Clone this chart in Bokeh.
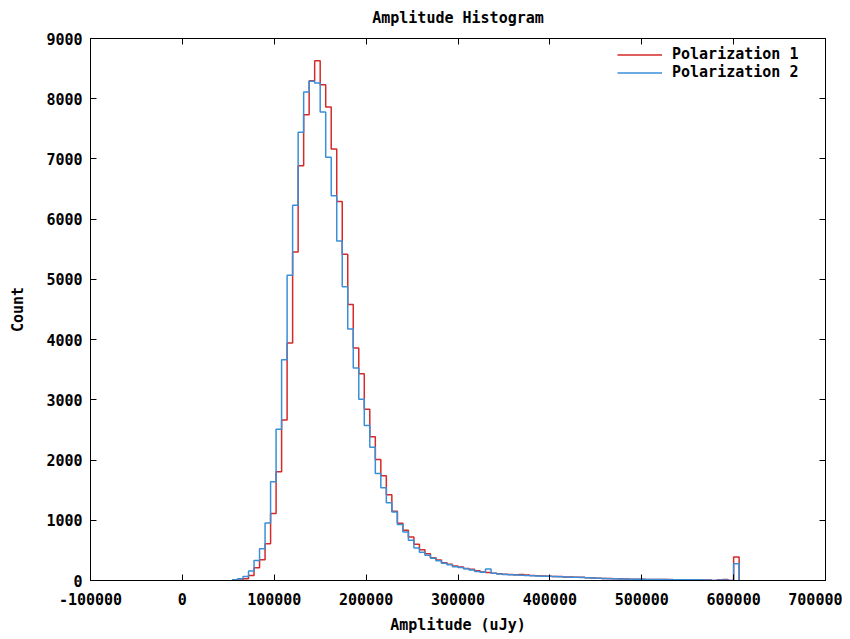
import numpy as np
from bokeh.plotting import figure
from bokeh.models import LinearAxis, FixedTicker, Legend, LegendItem, Range1d
from bokeh.embed import file_html
from bokeh.resources import INLINE

# ---------------- data ----------------
bin_width = 6000          # uJy per histogram bin
first_bin = 9             # index of the first bin listed below (bin k starts at k*bin_width)

pol1_counts = [
    0, 8, 28, 83, 211, 344, 611, 1111, 1806, 2667,
    3944, 5456, 6889, 7733, 8300, 8630, 8233, 7861, 7167, 6295,
    5417, 4583, 3861, 3433, 2844, 2389, 2011, 1739, 1422, 1150,
    950, 833, 722, 600, 510, 444, 378, 340, 295, 270,
    240, 225, 200, 185, 160, 140, 133, 120, 112, 105,
    100, 95, 100, 92, 85, 80, 75, 72, 68, 65,
    60, 58, 55, 52, 45, 42, 38, 35, 33, 30,
    28, 25, 22, 20, 20, 18, 18, 16, 15, 15,
    14, 13, 12, 12, 11, 10, 10, 0, 12, 15,
    0, 389, 0,
]

pol2_counts = [
    12, 28, 67, 156, 333, 528, 956, 1639, 2511, 3667,
    5067, 6233, 7444, 8111, 8289, 8260, 7778, 7028, 6389, 5639,
    4878, 4178, 3528, 3011, 2572, 2211, 1778, 1539, 1289, 1139,
    928, 806, 667, 540, 470, 420, 370, 330, 285, 262,
    228, 215, 195, 175, 150, 135, 189, 120, 108, 100,
    95, 90, 88, 85, 80, 76, 72, 70, 66, 62,
    58, 55, 52, 48, 45, 40, 36, 33, 30, 28,
    26, 24, 22, 20, 19, 18, 17, 16, 15, 14,
    13, 13, 12, 12, 11, 10, 10, 0, 8, 10,
    0, 278, 0,
]

series_names = ["Polarization 1", "Polarization 2"]

x_ticks = [-100000, 0, 100000, 200000, 300000, 400000, 500000, 600000, 700000]
x_tick_labels = ["-100000", "0", "100000", "200000", "300000", "400000", "500000", "600000", "700000"]
y_ticks = [0, 1000, 2000, 3000, 4000, 5000, 6000, 7000, 8000, 9000]
y_tick_labels = ["0", "1000", "2000", "3000", "4000", "5000", "6000", "7000", "8000", "9000"]

title_text = "Amplitude Histogram"
x_label = "Amplitude (uJy)"
y_label = "Count"

# ---------------- styling ----------------
FONT = "DejaVu Sans Mono"
FSIZE = "15px"
RED = "#d42a2a"
BLUE = "#3a8fd8"

SHIFT = 6
W, H = 842, 636 + SHIFT
FRAME_W, FRAME_H = 735, 549
BL, BT = 90, 38 + SHIFT
BR = W - BL - FRAME_W
BB = H - BT - FRAME_H

bin_left = (first_bin + np.arange(len(pol1_counts))) * bin_width

p = figure(
    width=W, height=H,
    x_range=Range1d(-100000, 700000), y_range=Range1d(0, 9000),
    output_backend="svg", toolbar_location=None,
    min_border_left=BL, min_border_right=BR, min_border_top=BT, min_border_bottom=BB,
    title=title_text,
)
p.styles = {"margin-top": f"-{SHIFT}px"}
p.background_fill_color = "white"
p.border_fill_color = "white"
p.xgrid.visible = False
p.ygrid.visible = False
p.outline_line_color = "black"
p.outline_line_width = 1

p.title.text_font = FONT
p.title.text_font_size = FSIZE
p.title.text_font_style = "bold"
p.title.align = "center"
p.title.text_color = "black"
p.title.standoff = 14 + SHIFT
p.title.vertical_align = "top"

r1 = p.step(bin_left, pol1_counts, mode="after", line_color=RED, line_width=1.5)
r2 = p.step(bin_left, pol2_counts, mode="after", line_color=BLUE, line_width=1.5)

def style_axis(ax, ticks, labels, show_labels=True):
    ax.ticker = FixedTicker(ticks=ticks)
    ax.major_tick_in = 6
    ax.major_tick_out = 0
    ax.minor_tick_line_color = None
    ax.axis_line_color = "black"
    ax.major_tick_line_color = "black"
    ax.major_label_text_font = FONT
    ax.major_label_text_font_style = "bold"
    if show_labels:
        ax.major_label_overrides = {t: l for t, l in zip(ticks, labels)}
        ax.major_label_text_font_size = FSIZE
        ax.major_label_text_color = "black"
    else:
        ax.major_label_text_font_size = "1px"
        ax.major_label_text_color = None
        ax.major_label_standoff = 0

style_axis(p.xaxis[0], x_ticks, x_tick_labels)
style_axis(p.yaxis[0], y_ticks, y_tick_labels)
p.xaxis[0].major_label_standoff = 12
p.yaxis[0].major_label_standoff = 8

for ax, lab in ((p.xaxis[0], x_label), (p.yaxis[0], y_label)):
    ax.axis_label = lab
    ax.axis_label_text_font = FONT
    ax.axis_label_text_font_size = FSIZE
    ax.axis_label_text_font_style = "bold"
    ax.axis_label_text_color = "black"
p.xaxis[0].axis_label_standoff = 8
p.yaxis[0].axis_label_standoff = 16

top_axis = LinearAxis()
style_axis(top_axis, x_ticks, x_tick_labels, show_labels=False)
p.add_layout(top_axis, "above")
right_axis = LinearAxis()
style_axis(right_axis, y_ticks, y_tick_labels, show_labels=False)
p.add_layout(right_axis, "right")

legend = Legend(
    items=[LegendItem(label=series_names[0], renderers=[r1]),
           LegendItem(label=series_names[1], renderers=[r2])],
    location=(527, FRAME_H - 50),
    label_text_font=FONT, label_text_font_size=FSIZE, label_text_font_style="bold",
    label_text_color="black",
    glyph_width=45, glyph_height=15, label_height=15, label_standoff=10,
    spacing=0, padding=0, margin=0,
    border_line_color=None, background_fill_alpha=0,
)
p.add_layout(legend)

open("out.html", "w").write(file_html(p, INLINE))
